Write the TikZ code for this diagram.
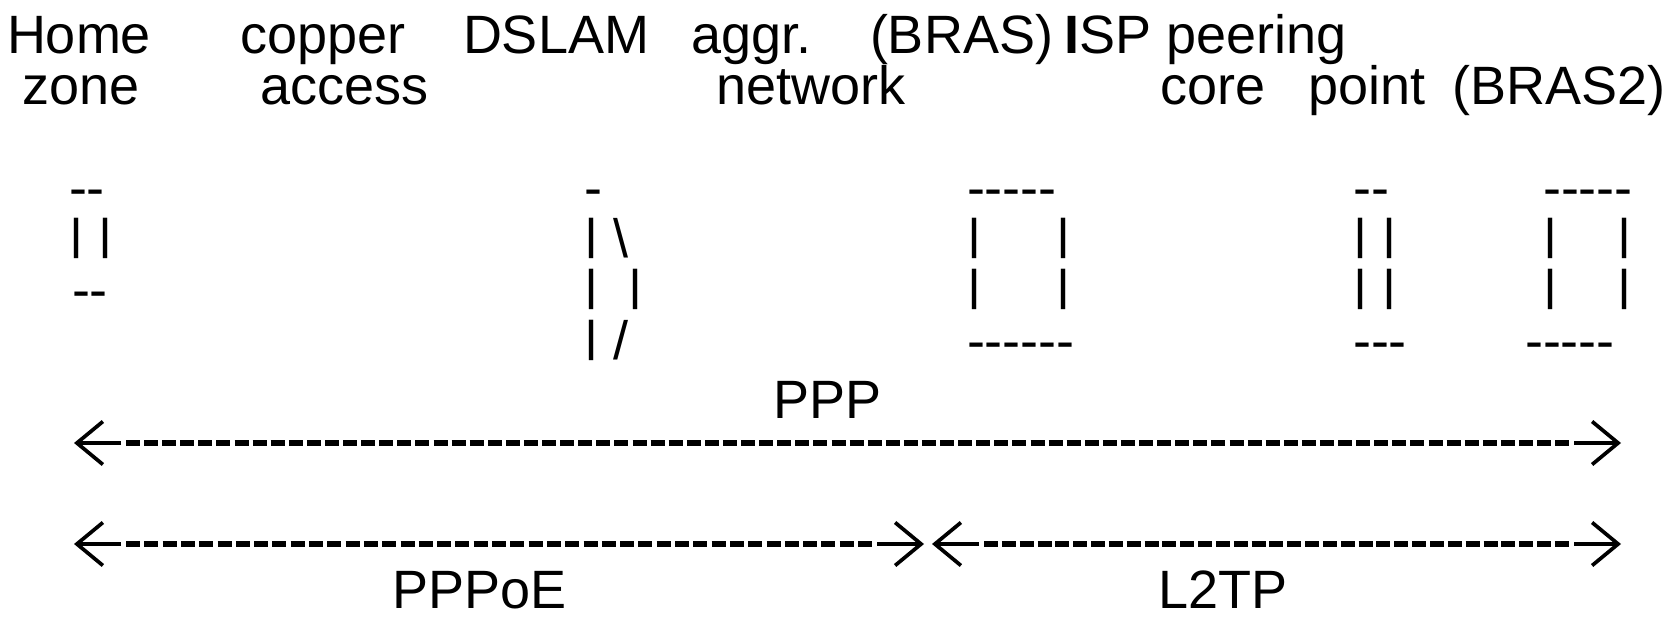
\documentclass[tikz,border=0pt]{standalone}
\usepackage{graphicx}
\usepackage{fontspec}
\setmainfont{Liberation Sans}
\usetikzlibrary{arrows.meta}
\newcommand\vb{\raisebox{0.14em}{\scalebox{1}[0.80]{|}}}
\begin{document}
\begin{tikzpicture}[x=1pt,y=-1pt,
  txt/.style={anchor=base west, inner sep=0pt, outer sep=0pt, font=\fontsize{54}{54}\selectfont},
  dashline/.style={line width=5.3pt, shorten <=5pt, shorten >=5pt},
  tipline/.style={line width=3.7pt, -{Straight Barb[length=26pt,width=43pt]}}]
\useasboundingbox[fill=white] (0,0) rectangle (1667,616);

% header rows
\node[txt] (home)   at (7,53)    {Home};
\node[txt] (copper) at (240,53)  {copper};
\node[txt] (dslam)  at (463,53)  {DSLAM};
\node[txt] (aggr)   at (691,53)  {aggr.};
\node[txt] (bras)   at (870,53)  {(BRAS)};
\node[txt] (isp)    at (1064,53) {\textbf{I}SP};
\node[txt] (peer)   at (1166,53) {peering};
\node[txt] (zone)   at (22,104)  {zone};
\node[txt] (access) at (260,104) {access};
\node[txt] (net)    at (716,104) {network};
\node[txt] (core)   at (1160,104){core};
\node[txt] (point)  at (1308,104){point};
\node[txt] (bras2)  at (1452,104){(BRAS2)};

% boxes
\node[txt] (ha) at (69,206)  {-{}-};
\node[txt] (hb) at (69,257)  {\vb\ \vb};
\node[txt] (hc) at (72,308)  {-{}-};

\node[txt] (da) at (584,206) {-};
\node[txt] (db) at (584,257) {\vb\ \textbackslash};
\node[txt] (dc) at (584,308) {\vb\ \ \vb};
\node[txt] (dd) at (584,359) {\vb\ /};

\node[txt] (ba) at (967,206) {-{}-{}-{}-{}-};
\node[txt] (bb) at (967,257) {\vb\ \ \ \ \ \vb};
\node[txt] (bc) at (967,308) {\vb\ \ \ \ \ \vb};
\node[txt] (bd) at (967,359) {-{}-{}-{}-{}-{}-};

\node[txt] (pa) at (1353,206) {-{}-};
\node[txt] (pb) at (1353,257) {\vb\ \vb};
\node[txt] (pc) at (1353,308) {\vb\ \vb};
\node[txt] (pd) at (1353,359) {-{}-{}-};

\node[txt] (ca) at (1543,206) {-{}-{}-{}-{}-};
\node[txt] (cb) at (1543,257) {\vb\ \ \ \ \vb};
\node[txt] (cc) at (1543,308) {\vb\ \ \ \ \vb};
\node[txt] (cd) at (1525,359) {-{}-{}-{}-{}-};

% labels
\node[txt] (ppp)   at (773,418)  {PPP};
\node[txt] (pppoe) at (392,608)  {PPPoE};
\node[txt] (l2tp)  at (1158,608) {L2TP};

% arrows
\coordinate (a1l)  at (74,443);
\coordinate (a1ls) at (121,443);
\coordinate (a1rs) at (1574,443);
\coordinate (a1r)  at (1621,443);
\draw[tipline] (a1ls) -- (a1l);
\draw[tipline] (a1rs) -- (a1r);
\draw[dashline, dash pattern=on 14pt off 4.09pt] (a1ls) -- (a1rs);

\coordinate (a2l)  at (74,544);
\coordinate (a2ls) at (121,544);
\coordinate (a2ms) at (877,544);
\coordinate (a2m)  at (924,544);
\draw[tipline] (a2ls) -- (a2l);
\draw[tipline] (a2ms) -- (a2m);
\draw[dashline, dash pattern=on 14pt off 4.3pt] (a2ls) -- (a2ms);

\coordinate (a3l)  at (932,544);
\coordinate (a3ls) at (979,544);
\coordinate (a3rs) at (1574,544);
\coordinate (a3r)  at (1621,544);
\draw[tipline] (a3ls) -- (a3l);
\draw[tipline] (a3rs) -- (a3r);
\draw[dashline, dash pattern=on 14pt off 3.84pt] (a3ls) -- (a3rs);
\end{tikzpicture}
\end{document}
